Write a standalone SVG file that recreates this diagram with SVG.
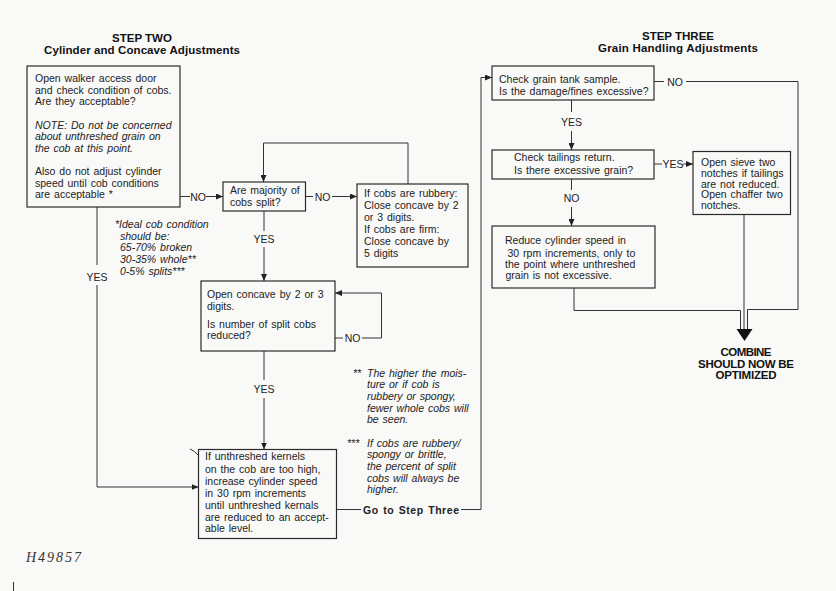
<svg xmlns="http://www.w3.org/2000/svg" width="836" height="591" viewBox="0 0 836 591">
<defs>
<style>
.box{fill:none;stroke:#2a2a2a;stroke-width:1.2}
.ln{fill:none;stroke:#333;stroke-width:1}
.t{font-family:"Liberation Sans",Arial,sans-serif;font-size:10.5px;fill:#222;word-spacing:1px}
.i{font-style:italic}
.b{font-weight:bold}
.c{text-anchor:middle}
.ttl{font-family:"Liberation Sans",Arial,sans-serif;font-weight:bold;font-size:11.5px;fill:#111;text-anchor:middle}
</style>
<marker id="ah" markerUnits="userSpaceOnUse" markerWidth="7" markerHeight="6" refX="7" refY="3" orient="auto">
<path d="M0,0 L7,3 L0,6 z" fill="#222"/>
</marker>
</defs>
<rect width="836" height="591" fill="#f9f9f8"/>

<g id="titles">
<text class="ttl" x="142" y="42" font-size="10px">STEP TWO</text>
<text class="ttl" x="142" y="54" textLength="196">Cylinder and Concave Adjustments</text>
<text class="ttl" x="678" y="40" font-size="10px">STEP THREE</text>
<text class="ttl" x="678" y="52" textLength="160">Grain Handling Adjustments</text>
</g>

<g id="connectors">
<path class="ln" d="M180,196.5 H190"/>
<path class="ln" d="M206,196.5 H223" marker-end="url(#ah)"/>
<path class="ln" d="M305.5,196.5 H313"/>
<path class="ln" d="M332,196.5 H357" marker-end="url(#ah)"/>
<path class="ln" d="M408,184 V143 H263.5 V182" marker-end="url(#ah)"/>
<path class="ln" d="M264,211 V231"/>
<path class="ln" d="M264,247 V281" marker-end="url(#ah)"/>
<path class="ln" d="M335,338 H343"/>
<path class="ln" d="M362,338 H381.5 V293 H335" marker-end="url(#ah)"/>
<path class="ln" d="M264,351 V380"/>
<path class="ln" d="M264,398 V449.5" marker-end="url(#ah)"/>
<path class="ln" d="M97,207 V265"/>
<path class="ln" d="M97,285 V487 H198.5" marker-end="url(#ah)"/>
<path class="ln" d="M190,449 Q195,451 198,455"/>
<path class="ln" d="M336.5,509.5 H361"/>
<path class="ln" d="M461,509.5 H481 V77.5 H492" marker-end="url(#ah)"/>
<path class="ln" d="M654,81.5 H664"/>
<path class="ln" d="M686,81.5 H798 V309.5 H747.5 V330"/>
<path class="ln" d="M571.5,100 V112"/>
<path class="ln" d="M571.5,131 V150" marker-end="url(#ah)"/>
<path class="ln" d="M654,164 H662"/>
<path class="ln" d="M683,164 H693" marker-end="url(#ah)"/>
<path class="ln" d="M571.5,179 V190"/>
<path class="ln" d="M571.5,207 V226" marker-end="url(#ah)"/>
<path class="ln" d="M574,288 V310.5 H740.5 V330"/>
<path class="ln" d="M744,214.5 V330"/>
<polygon points="736.5,329 752.5,329 744.5,341" fill="#111"/>
<text class="t c" x="198" y="200.5">NO</text>
<text class="t c" x="322.5" y="200.5">NO</text>
<text class="t c" x="264" y="242.5">YES</text>
<text class="t c" x="352.5" y="342">NO</text>
<text class="t c" x="264" y="392.5">YES</text>
<text class="t c" x="97" y="281">YES</text>
<text class="t b" x="363" y="513.5" font-size="11px" textLength="96">Go to Step Three</text>
<text class="t c" x="675" y="85.5">NO</text>
<text class="t c" x="571.5" y="125.5">YES</text>
<text class="t c" x="673" y="168">YES</text>
<text class="t c" x="571.5" y="202">NO</text>
</g>

<g id="n1">
<rect class="box" x="27" y="66" width="153" height="141"/>
<text class="t" x="35" y="82">Open walker access door</text>
<text class="t" x="35" y="93.5">and check condition of cobs.</text>
<text class="t" x="35" y="105">Are they acceptable?</text>
<text class="t i" x="35" y="128.5">NOTE: Do not be concerned</text>
<text class="t i" x="35" y="140">about unthreshed grain on</text>
<text class="t i" x="35" y="151.5">the cob at this point.</text>
<text class="t" x="35" y="175">Also do not adjust cylinder</text>
<text class="t" x="35" y="186.5">speed until cob conditions</text>
<text class="t" x="35" y="198">are acceptable *</text>
</g>

<g id="note1">
<text class="t i" x="115" y="228">*Ideal cob condition</text>
<text class="t i" x="120" y="239.5">should be:</text>
<text class="t i" x="120" y="251">65-70% broken</text>
<text class="t i" x="120" y="263">30-35% whole**</text>
<text class="t i" x="120" y="274.5">0-5% splits***</text>
</g>

<g id="n2">
<rect class="box" x="223" y="182" width="82.5" height="29"/>
<text class="t" x="230" y="194">Are majority of</text>
<text class="t" x="230" y="206">cobs split?</text>
</g>

<g id="n3">
<rect class="box" x="357" y="184" width="111" height="83"/>
<text class="t" x="364" y="197">If cobs are rubbery:</text>
<text class="t" x="364" y="209">Close concave by 2</text>
<text class="t" x="364" y="221">or 3 digits.</text>
<text class="t" x="364" y="233">If cobs are firm:</text>
<text class="t" x="364" y="245">Close concave by</text>
<text class="t" x="364" y="257">5 digits</text>
</g>

<g id="n4">
<rect class="box" x="201" y="281" width="134" height="70"/>
<text class="t" x="207" y="298">Open concave by 2 or 3</text>
<text class="t" x="207" y="309.5">digits.</text>
<text class="t" x="207" y="327.5">Is number of split cobs</text>
<text class="t" x="207" y="339">reduced?</text>
</g>

<g id="note2">
<text class="t i" x="353" y="376.5">**</text>
<text class="t i" x="367" y="376.5">The higher the mois-</text>
<text class="t i" x="367" y="388">ture or if cob is</text>
<text class="t i" x="367" y="400">rubbery or spongy,</text>
<text class="t i" x="367" y="411.5">fewer whole cobs will</text>
<text class="t i" x="367" y="423">be seen.</text>
<text class="t i" x="347" y="446.5">***</text>
<text class="t i" x="367" y="446.5">If cobs are rubbery/</text>
<text class="t i" x="367" y="458">spongy or brittle,</text>
<text class="t i" x="367" y="470">the percent of split</text>
<text class="t i" x="367" y="481.5">cobs will always be</text>
<text class="t i" x="367" y="493">higher.</text>
</g>

<g id="n5">
<rect class="box" x="198.5" y="449.5" width="138" height="89"/>
<text class="t" x="205" y="460">If unthreshed kernels</text>
<text class="t" x="205" y="472.5">on the cob are too high,</text>
<text class="t" x="205" y="485">increase cylinder speed</text>
<text class="t" x="205" y="496.5">in 30 rpm increments</text>
<text class="t" x="205" y="509">until unthreshed kernals</text>
<text class="t" x="205" y="521">are reduced to an accept-</text>
<text class="t" x="205" y="532">able level.</text>
</g>

<g id="n6">
<rect class="box" x="492" y="66" width="162" height="34"/>
<text class="t" x="499" y="82.5">Check grain tank sample.</text>
<text class="t" x="499" y="95">Is the damage/fines excessive?</text>
</g>

<g id="n7">
<rect class="box" x="492" y="150" width="162" height="29"/>
<text class="t" x="514" y="161">Check tailings return.</text>
<text class="t" x="514" y="174">Is there excessive grain?</text>
</g>

<g id="n8">
<rect class="box" x="693" y="151.5" width="97.5" height="63"/>
<text class="t" x="701" y="165.5">Open sieve two</text>
<text class="t" x="701" y="176.5">notches if tailings</text>
<text class="t" x="701" y="187.5">are not reduced.</text>
<text class="t" x="701" y="198">Open chaffer two</text>
<text class="t" x="701" y="209">notches.</text>
</g>

<g id="n9">
<rect class="box" x="492" y="226" width="163" height="62"/>
<text class="t" x="505" y="244">Reduce cylinder speed in</text>
<text class="t" x="507.5" y="257">30 rpm increments, only to</text>
<text class="t" x="505" y="268">the point where unthreshed</text>
<text class="t" x="505.5" y="279">grain is not excessive.</text>
</g>

<g id="n10">
<text class="ttl" x="746" y="355.5" font-size="11px" textLength="51">COMBINE</text>
<text class="ttl" x="746" y="367.5" font-size="11px" textLength="96">SHOULD NOW BE</text>
<text class="ttl" x="746" y="379" font-size="11px" textLength="61">OPTIMIZED</text>
</g>

<g id="ref">
<text x="26" y="562" font-family="Liberation Serif, Times New Roman, serif" font-style="italic" font-size="14px" fill="#333" textLength="55">H49857</text>
<path class="ln" d="M13.5,582 V591"/>
</g>
</svg>
